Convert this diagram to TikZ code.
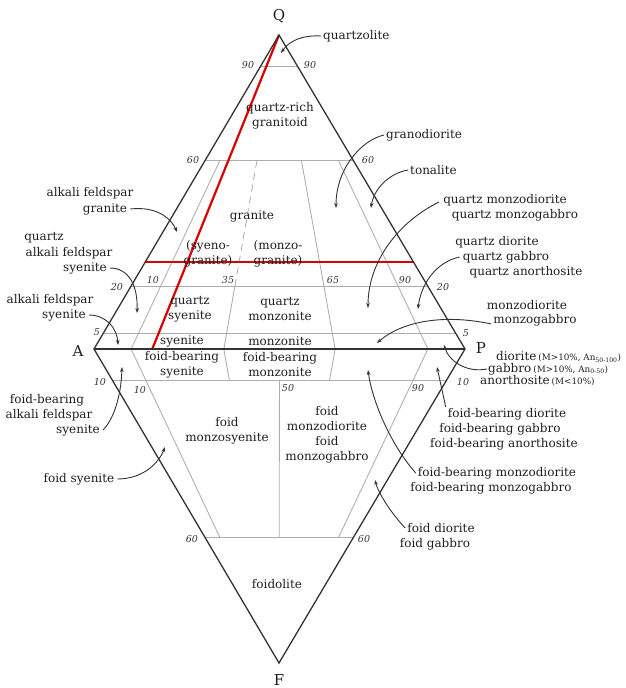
\documentclass[tikz,border=0pt]{standalone}
\usepackage{fontspec}
\setmainfont{DejaVu Serif}
\usetikzlibrary{calc,arrows.meta}
\newcommand\qapfsmall{\fontsize{8.8}{10}\selectfont}
\begin{document}
\begin{tikzpicture}[x=1pt,y=-1pt,
  border/.style={draw=black!80, line width=1.3pt},
  gridline/.style={draw=black!32, line width=0.85pt},
  redline/.style={draw=red!85!black, line width=2.2pt},
  lbl/.style={inner sep=0pt, font=\fontsize{12}{15}\selectfont, text=black!88, align=center},
  num/.style={inner sep=0pt, font=\fontsize{9.5}{10}\selectfont\itshape, text=black!80},
  vtx/.style={inner sep=0pt, font=\fontsize{15}{15}\selectfont, text=black!88},
  arr/.style={draw=black!80, line width=0.9pt, -{Stealth[length=5pt,width=3.6pt]}},
]
\useasboundingbox (0,0) rectangle (625,688);
% vertices
\coordinate (Q) at (279,35);
\coordinate (A) at (94,349);
\coordinate (P) at (465,349);
\coordinate (F) at (279,663);
% base points on A-P
\coordinate (b10) at ($(A)!0.10!(P)$);
\coordinate (b35) at ($(A)!0.35!(P)$);
\coordinate (b50) at ($(A)!0.50!(P)$);
\coordinate (b65) at ($(A)!0.65!(P)$);
\coordinate (b90) at ($(A)!0.90!(P)$);
\coordinate (bred) at ($(A)!0.157!(P)$);
% horizontal grid lines
\draw[gridline] ($(A)!0.9!(Q)$) -- ($(P)!0.9!(Q)$);
\draw[gridline] ($(A)!0.6!(Q)$) -- ($(P)!0.6!(Q)$);
\draw[gridline] ($(A)!0.2!(Q)$) -- ($(P)!0.2!(Q)$);
\draw[gridline] ($(A)!0.05!(Q)$) -- ($(P)!0.05!(Q)$);
\draw[gridline] ($(A)!0.1!(F)$) -- ($(P)!0.1!(F)$);
\draw[gridline] ($(A)!0.6!(F)$) -- ($(P)!0.6!(F)$);
% radial grid lines, upper
\draw[gridline] (b10) -- ($(b10)!0.6!(Q)$);
\draw[gridline] (b35) -- ($(b35)!0.2!(Q)$);
\draw[gridline, dashed, dash pattern=on 7pt off 5pt] ($(b35)!0.2!(Q)$) -- ($(b35)!0.6!(Q)$);
\draw[gridline] (b65) -- ($(b65)!0.6!(Q)$);
\draw[gridline] (b90) -- ($(b90)!0.6!(Q)$);
% radial grid lines, lower
\draw[gridline] (b10) -- ($(b10)!0.6!(F)$);
\draw[gridline] (b35) -- ($(b35)!0.1!(F)$);
\draw[gridline] (b65) -- ($(b65)!0.1!(F)$);
\draw[gridline] (b90) -- ($(b90)!0.6!(F)$);
\draw[gridline] ($(b50)!0.1!(F)$) -- ($(b50)!0.6!(F)$);
% red lines
\draw[redline] (Q) -- (bred);
\draw[redline] ($(A)!0.277!(Q)$) -- ($(P)!0.277!(Q)$);
% borders
\draw[border] (A) -- (Q) -- (P) -- (F) -- cycle;
\draw[border, line width=1.6pt] (A) -- (P);

% vertex labels
\node[vtx] (lQ) at (279,16) {Q};
\node[vtx] (lA) at (78,351) {A};
\node[vtx] (lP) at (481,348) {P};
\node[vtx] (lF) at (279,680) {F};

% tick numbers
\node[num] (t90l) at (248,65) {90};
\node[num] (t90r) at (310,65) {90};
\node[num] (t60l) at (193,160) {60};
\node[num] (t60r) at (368,160) {60};
\node[num] (t20l) at (117,287) {20};
\node[num] (t20r) at (443,287) {20};
\node[num] (t5l) at (97,332) {5};
\node[num] (t5r) at (466,333) {5};
\node[num] (t10l) at (100,382) {10};
\node[num] (t10r) at (463,382) {10};
\node[num] (r10u) at (153,280) {10};
\node[num] (r35u) at (228,280) {35};
\node[num] (r65u) at (333,280) {65};
\node[num] (r90u) at (405,280) {90};
\node[num] (r10d) at (140,390) {10};
\node[num] (r50d) at (288,388) {50};
\node[num] (r90d) at (418,388) {90};
\node[num] (t60dl) at (192,539) {60};
\node[num] (t60dr) at (364,539) {60};

% field labels inside
\node[lbl] (qrg) at (280,116) {quartz-rich\\granitoid};
\node[lbl] (gra) at (252,216) {granite};
\node[lbl] (syg) at (208,254) {(syeno-\\granite)};
\node[lbl] (mzg) at (278,254) {(monzo-\\granite)};
\node[lbl] (qsy) at (190,309) {quartz\\syenite};
\node[lbl] (qmz) at (280,309) {quartz\\monzonite};
\node[lbl] (sye) at (182,341) {syenite};
\node[lbl] (mzn) at (280,341) {monzonite};
\node[lbl] (fbs) at (182,365) {foid-bearing\\syenite};
\node[lbl] (fbm) at (280,365) {foid-bearing\\monzonite};
\node[lbl] (fms) at (227,431) {foid\\monzosyenite};
\node[lbl] (fmd) at (327,435) {foid\\monzodiorite\\foid\\monzogabbro};
\node[lbl] (fdl) at (277,584) {foidolite};

% outside labels, right
\node[lbl, anchor=west] (qzl) at (323,36) {quartzolite};
\node[lbl, anchor=west] (grd) at (386,135) {granodiorite};
\node[lbl, anchor=west] (ton) at (410,170) {tonalite};
\node[lbl] (qmd1) at (505,200) {quartz monzodiorite};
\node[lbl] (qmd2) at (515,215) {quartz monzogabbro};
\node[lbl] (qd1) at (497,242) {quartz diorite};
\node[lbl] (qd2) at (506,257) {quartz gabbro};
\node[lbl] (qd3) at (526,272) {quartz anorthosite};
\node[lbl] (md1) at (527,305) {monzodiorite};
\node[lbl] (md2) at (535,320) {monzogabbro};
\node[lbl, anchor=west] (dio) at (496,357) {diorite\,{\qapfsmall(M>10\%, An\textsubscript{50-100})}};
\node[lbl, anchor=west] (gab) at (488,369) {gabbro\,{\qapfsmall(M>10\%, An\textsubscript{0-50})}};
\node[lbl, anchor=west] (ano) at (480,381) {anorthosite\,{\qapfsmall(M<10\%)}};
\node[lbl] (fbd1) at (507,414) {foid-bearing diorite};
\node[lbl] (fbd2) at (500,429) {foid-bearing gabbro};
\node[lbl] (fbd3) at (504,444) {foid-bearing anorthosite};
\node[lbl] (fbmd1) at (497,473) {foid-bearing monzodiorite};
\node[lbl] (fbmd2) at (491,488) {foid-bearing monzogabbro};
\node[lbl] (fd1) at (441,528) {foid diorite};
\node[lbl] (fd2) at (435,544) {foid gabbro};

% outside labels, left
\node[lbl] (afg1) at (90,193) {alkali feldspar};
\node[lbl] (afg2) at (105,209) {granite};
\node[lbl] (qas1) at (44,238) {quartz};
\node[lbl] (qas2) at (69,253) {alkali feldspar};
\node[lbl] (qas3) at (85,268) {syenite};
\node[lbl] (afs1) at (50,300) {alkali feldspar};
\node[lbl] (afs2) at (64,315) {syenite};
\node[lbl] (fba1) at (47,400) {foid-bearing};
\node[lbl] (fba2) at (49,415) {alkali feldspar};
\node[lbl] (fba3) at (78,430) {syenite};
\node[lbl] (fsy) at (79,479) {foid syenite};

% arrow tips
\coordinate (tqzl) at (281,53);
\coordinate (tgrd) at (336,208);
\coordinate (tton) at (371,208);
\coordinate (tqmd) at (368,308);
\coordinate (tqd) at (418,309);
\coordinate (tmd) at (377,343);
\coordinate (tdio) at (444,345);
\coordinate (tafg) at (177,232);
\coordinate (tqas) at (137,313);
\coordinate (tafs) at (118,345);
\coordinate (tfba) at (122,367);
\coordinate (tfsy) at (165,447);
\coordinate (tfbd) at (437,367);
\coordinate (tfbmd) at (368,370);
\coordinate (tfd) at (375,480);

% arrows
\draw[arr] ([xshift=-2pt]qzl.west) .. controls (302,35) and (289,41) .. (tqzl);
\draw[arr] ([xshift=-2pt]grd.west) .. controls (362,140) and (336,168) .. (tgrd);
\draw[arr] ([xshift=-2pt]ton.west) .. controls (390,173) and (374,188) .. (tton);
\draw[arr] ([xshift=-4pt,yshift=4pt]qmd1.south west) .. controls (398,222) and (368,262) .. (tqmd);
\draw[arr] ([xshift=-3pt]qd2.west) .. controls (436,262) and (421,284) .. (tqd);
\draw[arr] ([xshift=-2pt,yshift=-4pt]md2.west) .. controls (440,313) and (400,323) .. (tmd);
\draw[arr] ([xshift=-1pt]gab.west) .. controls (466,373) and (449,361) .. (tdio);
\draw[arr] ([xshift=3pt]afg2.east) .. controls (156,206) and (171,218) .. (tafg);
\draw[arr] ([xshift=3pt]qas3.east) .. controls (129,268) and (138,286) .. (tqas);
\draw[arr] ([xshift=3pt]afs2.east) .. controls (106,315) and (117,328) .. (tafs);
\draw[arr] ([xshift=3pt]fba3.east) .. controls (113,420) and (121,398) .. (tfba);
\draw[arr] ([xshift=3pt]fsy.east) .. controls (141,479) and (158,465) .. (tfsy);
\draw[arr] ([xshift=-2pt,yshift=1pt]fbd1.north west) -- (tfbd);
\draw[arr] ([xshift=-2pt]fbmd1.west) .. controls (390,444) and (372,400) .. (tfbmd);
\draw[arr] ([xshift=-2pt]fd1.west) .. controls (390,512) and (378,492) .. (tfd);
\end{tikzpicture}
\end{document}
